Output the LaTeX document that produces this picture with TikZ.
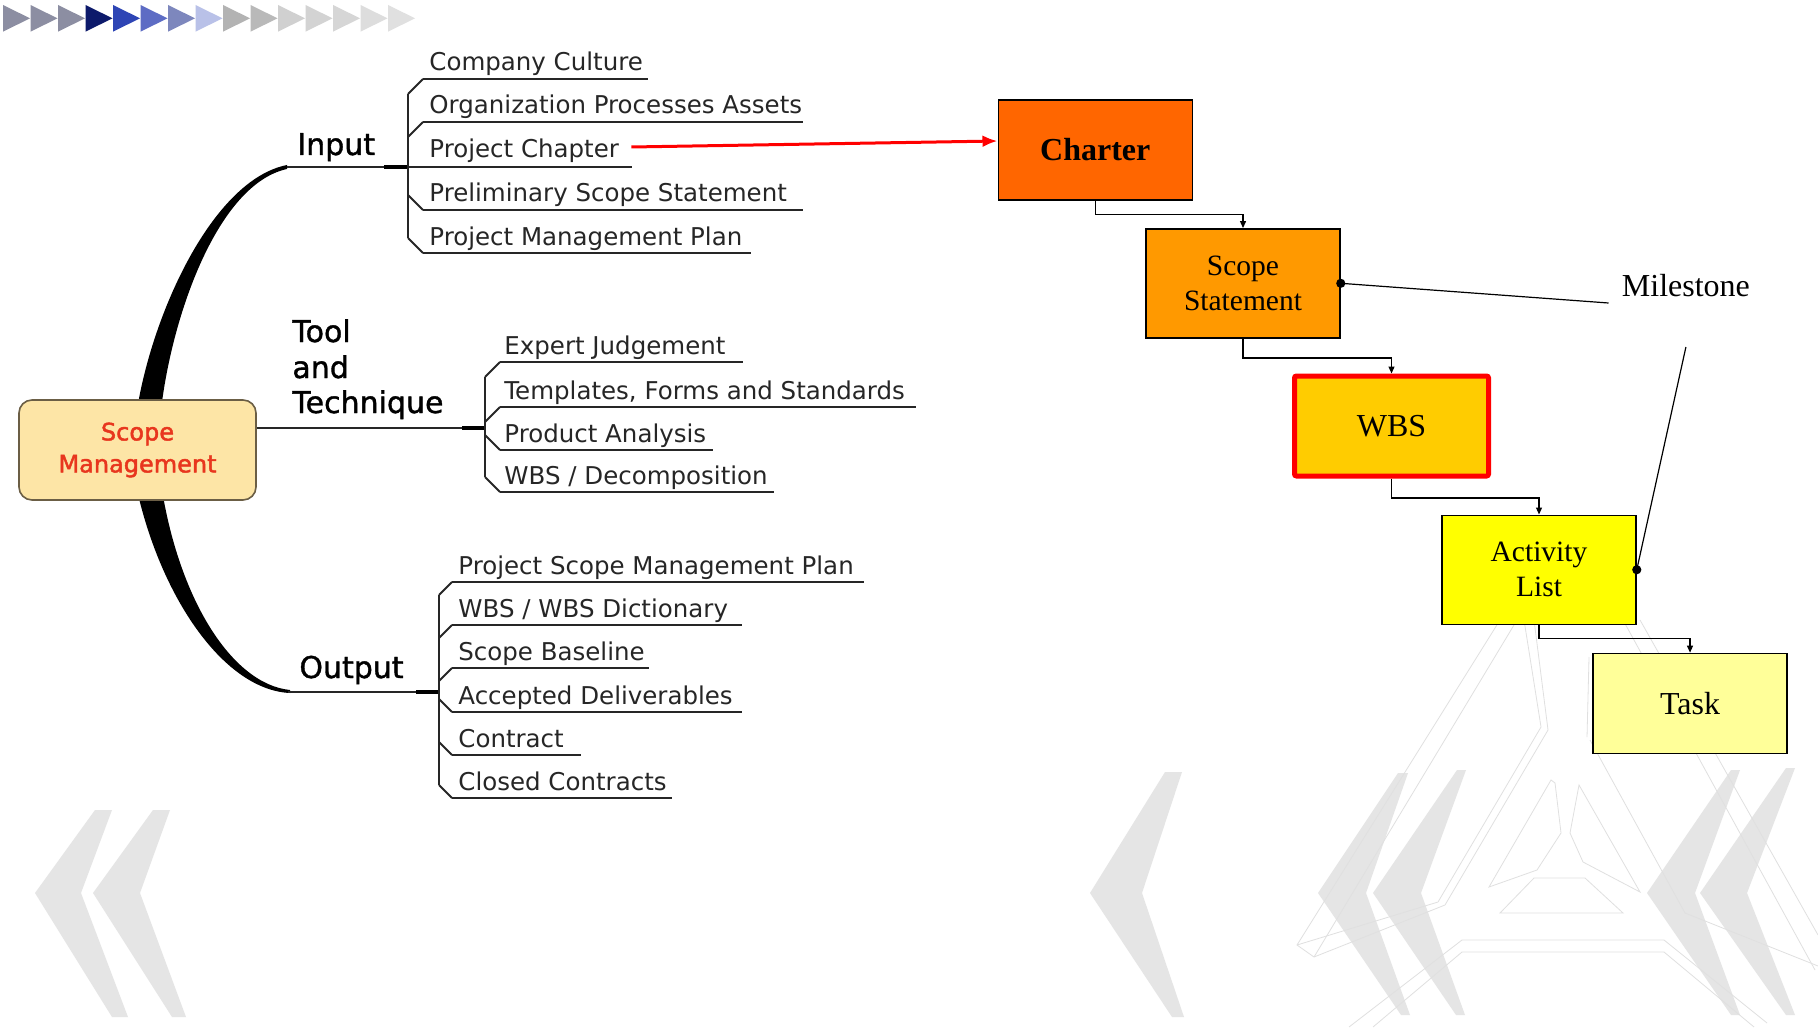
\documentclass[tikz,border=0pt]{standalone}
\usepackage{fontspec}
\setmainfont{Liberation Serif}
\newfontfamily\mmfont{DejaVu Sans}
\newfontfamily\mbfont[FakeBold=1.2]{DejaVu Sans}
\newfontfamily\smfont[FakeBold=1.8]{DejaVu Sans}
\usetikzlibrary{arrows.meta,calc}

\definecolor{ar_1}{HTML}{8C8EA2}
\definecolor{ar_4}{HTML}{0D1A6B}
\definecolor{ar_5}{HTML}{2E45B5}
\definecolor{ar_6}{HTML}{5D6CC4}
\definecolor{ar_7}{HTML}{7D87BD}
\definecolor{ar_8}{HTML}{B9C1E8}
\definecolor{ar_9}{HTML}{B3B3B3}
\definecolor{ar_10}{HTML}{B9B9B9}
\definecolor{ar_11}{HTML}{D0D0D0}
\definecolor{ar_12}{HTML}{D3D3D3}
\definecolor{ar_13}{HTML}{D6D6D6}
\definecolor{ar_14}{HTML}{DDDDDD}
\definecolor{ar_15}{HTML}{E0E0E0}
\definecolor{sm_f}{HTML}{FDE5A6}
\definecolor{sm_d}{HTML}{6B5E45}
\definecolor{sm_t}{HTML}{E8361E}
\definecolor{b_1}{HTML}{FF6600}
\definecolor{b_2}{HTML}{FF9900}
\definecolor{b_3}{HTML}{FFCC00}
\definecolor{b_4}{HTML}{FFFF00}
\definecolor{b_5}{HTML}{FFFF99}

\begin{document}
\begin{tikzpicture}[x=0.5pt,y=-0.5pt]
\tikzset{
	it/.style={anchor=base west, inner sep=0pt, text=black!85, font=\mmfont\fontsize{12.25}{14}\selectfont},
	lb/.style={anchor=base west, inner sep=0pt, font=\mbfont\fontsize{15}{18}\selectfont},
	ul/.style={line width=0.9pt, black!85},
	st/.style={line width=1.8pt},
	bx/.style={draw=black, line width=0.75pt, minimum width=97pt, inner sep=0pt, align=center, font=\fontsize{14.75}{17.5}\selectfont},
	cn/.style={line width=0.6pt, -{Triangle[length=3.5pt,width=3pt]}},
	ra/.style={red, line width=1.5pt, -{Latex[length=7.5pt,width=6pt]}},
	wm/.style={black!12, line width=0.4pt},
	cv/.style={fill=black!10}
}
\useasboundingbox (0,0) rectangle (1818,1027);
\fill[white] (0,0) rectangle (1818,1027);

% 背景
\fill[cv] (95,810) -- (35,893) -- (112,1017) -- (128,1017) -- (81,893) -- (112,810) -- cycle;
\fill[cv] (153,810) -- (93,893) -- (172,1017) -- (186,1017) -- (140,893) -- (170,810) -- cycle;
\fill[cv] (1165,772) -- (1090,893) -- (1172,1017) -- (1184,1017) -- (1142,893) -- (1182,772) -- cycle;
\fill[cv] (1398,773) -- (1318,893) -- (1401,1015) -- (1410,1015) -- (1366,893) -- (1408,773) -- cycle;
\fill[cv] (1457,770) -- (1373,893) -- (1456,1015) -- (1465,1015) -- (1421,893) -- (1466,770) -- cycle;
\fill[cv] (1731,770) -- (1647,893) -- (1731,1015) -- (1740,1015) -- (1695,893) -- (1740,770) -- cycle;
\fill[cv] (1786,768) -- (1700,893) -- (1786,1015) -- (1795,1015) -- (1747,893) -- (1795,768) -- cycle;

\draw[wm] (1500,620) -- (1297,945) -- (1314,957) -- (1445,905) -- (1548,730) -- (1534,620);
\draw[wm] (1517,620) -- (1314,957);
\draw[wm] (1297,945) -- (1438,902) -- (1541,727) -- (1524,620);
\draw[wm] (1349,1027) -- (1462,940) -- (1664,940) -- (1767,1023);
\draw[wm] (1373,1027) -- (1462,952) -- (1664,952) -- (1754,1027);
\draw[wm] (1623,620) -- (1815,970);
\draw[wm] (1640,620) -- (1818,935);
\draw[wm] (1587,737) -- (1589,657);
\draw[wm] (1685,913) -- (1818,966);
\draw[wm] (1685,913) -- (1590,740);
\draw[wm] (1551,780) -- (1489,887) -- (1537,870) -- (1561,833) -- (1555,783) -- cycle;
\draw[wm] (1579,785) -- (1640,892) -- (1583,862) -- (1570,833) -- cycle;
\draw[wm] (1500,913) -- (1534,878) -- (1585,878) -- (1623,913) -- cycle;

% 箭头条
\fill[ar_1] (3,5) -- (30,18.3) -- (3,31.7) -- cycle;
\fill[ar_1] (30.5,5) -- (57.5,18.3) -- (30.5,31.7) -- cycle;
\fill[ar_1] (58,5) -- (85,18.3) -- (58,31.7) -- cycle;
\fill[ar_4] (85.5,5) -- (112.5,18.3) -- (85.5,31.7) -- cycle;
\fill[ar_5] (113,5) -- (140,18.3) -- (113,31.7) -- cycle;
\fill[ar_6] (140.5,5) -- (167.5,18.3) -- (140.5,31.7) -- cycle;
\fill[ar_7] (168,5) -- (195,18.3) -- (168,31.7) -- cycle;
\fill[ar_8] (195.5,5) -- (222.5,18.3) -- (195.5,31.7) -- cycle;
\fill[ar_9] (223,5) -- (250,18.3) -- (223,31.7) -- cycle;
\fill[ar_10] (250.5,5) -- (277.5,18.3) -- (250.5,31.7) -- cycle;
\fill[ar_11] (278,5) -- (305,18.3) -- (278,31.7) -- cycle;
\fill[ar_12] (305.5,5) -- (332.5,18.3) -- (305.5,31.7) -- cycle;
\fill[ar_13] (333,5) -- (360,18.3) -- (333,31.7) -- cycle;
\fill[ar_14] (360.5,5) -- (387.5,18.3) -- (360.5,31.7) -- cycle;
\fill[ar_15] (388,5) -- (415,18.3) -- (388,31.7) -- cycle;

% 中心
\fill (137,410) .. controls (152,315) and (212,180) .. (287,165) -- (287,169) .. controls (218,184) and (172,315) .. (161,410) -- cycle;
\fill (137,490) .. controls (162,600) and (225,690) .. (290,693) -- (290,690) .. controls (232,684) and (180,600) .. (162,490) -- cycle;
\node[draw=sm_d, fill=sm_f, line width=0.8pt, rounded corners=6.5pt, minimum width=118.5pt, minimum height=50pt,
	align=center, text=sm_t, font=\smfont\fontsize{12}{16}\selectfont] (sm) at (137.5,450) {Scope\\Management};

% Input
\node[lb] (i_0) at (297,155) {Input};
\coordinate (i_j) at (408,167);
\draw[ul] (287,167) -- (i_j);
\draw[st] (384,167) -- (i_j);
\node[it] (i_1) at (429,71)  {Company Culture};
\node[it] (i_2) at (429,114) {Organization Processes Assets};
\node[it] (i_3) at (429,158) {Project Chapter};
\node[it] (i_4) at (429,202) {Preliminary Scope Statement};
\node[it] (i_5) at (429,245) {Project Management Plan};
\draw[ul] ($(i_1.base west)+(-6,8)$) -- ++(225,0);
\draw[ul] ($(i_2.base west)+(-6,8)$) -- ++(380,0);
\draw[ul] (i_j) -- ++(224,0);
\draw[ul] ($(i_4.base west)+(-6,8)$) -- ++(380,0);
\draw[ul] ($(i_5.base west)+(-6,8)$) -- ++(328,0);
\draw[ul] ($(i_j)+(0,-73)$) -- ($(i_j)+(0,71)$);
\draw[ul] ($(i_1.base west)+(-6,8)$) -- ++(-15,15);
\draw[ul] ($(i_2.base west)+(-6,8)$) -- ++(-15,15);
\draw[ul] ($(i_4.base west)+(-6,8)$) -- ++(-15,-15);
\draw[ul] ($(i_5.base west)+(-6,8)$) -- ++(-15,-15);

% Tool and Technique
\node[lb] (t_0a) at (292,342) {Tool};
\node[lb] (t_0b) at (292,378) {and};
\node[lb] (t_0c) at (292,413) {Technique};
\coordinate (t_j) at (485,428);
\draw[ul] ($(sm.east)+(0,-22)$) -- (t_j);
\draw[st] (462,428) -- (t_j);
\node[it] (t_1) at (504,354) {Expert Judgement};
\node[it] (t_2) at (504,399) {Templates, Forms and Standards};
\node[it] (t_3) at (504,442) {Product Analysis};
\node[it] (t_4) at (504,484) {WBS / Decomposition};
\draw[ul] ($(t_1.base west)+(-4,8)$) -- ++(243,0);
\draw[ul] ($(t_2.base west)+(-4,8)$) -- ++(416,0);
\draw[ul] ($(t_3.base west)+(-4,8)$) -- ++(213,0);
\draw[ul] ($(t_4.base west)+(-4,8)$) -- ++(274,0);
\draw[ul] ($(t_j)+(0,-51)$) -- ($(t_j)+(0,49)$);
\draw[ul] ($(t_1.base west)+(-4,8)$) -- ++(-15,15);
\draw[ul] ($(t_2.base west)+(-4,8)$) -- ++(-15,15);
\draw[ul] ($(t_3.base west)+(-4,8)$) -- ++(-15,-15);
\draw[ul] ($(t_4.base west)+(-4,8)$) -- ++(-15,-15);

% Output
\node[lb] (o_0) at (299,678) {Output};
\coordinate (o_j) at (439,692);
\draw[ul] (288,692) -- (o_j);
\draw[st] (416,692) -- (o_j);
\node[it] (o_1) at (458,574) {Project Scope Management Plan};
\node[it] (o_2) at (458,617) {WBS / WBS Dictionary};
\node[it] (o_3) at (458,660) {Scope Baseline};
\node[it] (o_4) at (458,704) {Accepted Deliverables};
\node[it] (o_5) at (458,747) {Contract};
\node[it] (o_6) at (458,790) {Closed Contracts};
\draw[ul] ($(o_1.base west)+(-6,8)$) -- ++(412,0);
\draw[ul] ($(o_2.base west)+(-6,8)$) -- ++(290,0);
\draw[ul] ($(o_3.base west)+(-6,8)$) -- ++(197,0);
\draw[ul] ($(o_4.base west)+(-6,8)$) -- ++(290,0);
\draw[ul] ($(o_5.base west)+(-6,8)$) -- ++(129,0);
\draw[ul] ($(o_6.base west)+(-6,8)$) -- ++(220,0);
\draw[ul] ($(o_j)+(0,-97)$) -- ($(o_j)+(0,93)$);
\draw[ul] ($(o_1.base west)+(-6,8)$) -- ++(-13,13);
\draw[ul] ($(o_2.base west)+(-6,8)$) -- ++(-13,13);
\draw[ul] ($(o_3.base west)+(-6,8)$) -- ++(-13,13);
\draw[ul] ($(o_4.base west)+(-6,8)$) -- ++(-13,-13);
\draw[ul] ($(o_5.base west)+(-6,8)$) -- ++(-13,-13);
\draw[ul] ($(o_6.base west)+(-6,8)$) -- ++(-13,-13);

% 右侧
\node[bx, fill=b_1, minimum height=50pt, font=\bfseries\fontsize{16}{19}\selectfont] (s_1) at (1095.25,150) {Charter};
\node[bx, fill=b_2, minimum height=54.5pt] (s_2) at (1243,283.3) {Scope\\Statement};
\node[bx, fill=b_3, draw=red, line width=2.5pt, rounded corners=1pt, minimum height=50pt, font=\fontsize{16}{19}\selectfont] (s_3) at (1391.5,426) {WBS};
\node[bx, fill=b_4, minimum height=54.5pt] (s_4) at (1539,569.75) {Activity\\List};
\node[bx, fill=b_5, minimum height=50pt, font=\fontsize{16}{19}\selectfont] (s_5) at (1690,703.4) {Task};

\draw[cn] (s_1.south) -- ++(0,14) -| (s_2.north);
\draw[cn] (s_2.south) -- ++(0,19.5) -| (s_3.north);
\draw[cn] (s_3.south) -- ++(0,19.5) -| (s_4.north);
\draw[cn] (s_4.south) -- ++(0,13.5) -| (s_5.north);

\draw[ra] ($(i_3.base east)+(12,-11)$) -- ($(s_1.west)+(0,-9)$);

% Milestone
\node[anchor=base west, inner sep=0pt, font=\fontsize{16}{19}\selectfont] (m_1) at (1621.5,296) {Milestone};
\coordinate (m_a) at ($(m_1.base west)+(-13,7)$);
\coordinate (m_b) at ($(m_1.base)+(0,51)$);
\draw[line width=0.6pt] (s_2.east) -- (m_a);
\draw[line width=0.6pt] (s_4.east) -- (m_b);
\fill (s_2.east) circle (2.3pt);
\fill (s_4.east) circle (2.3pt);

\end{tikzpicture}
\end{document}
